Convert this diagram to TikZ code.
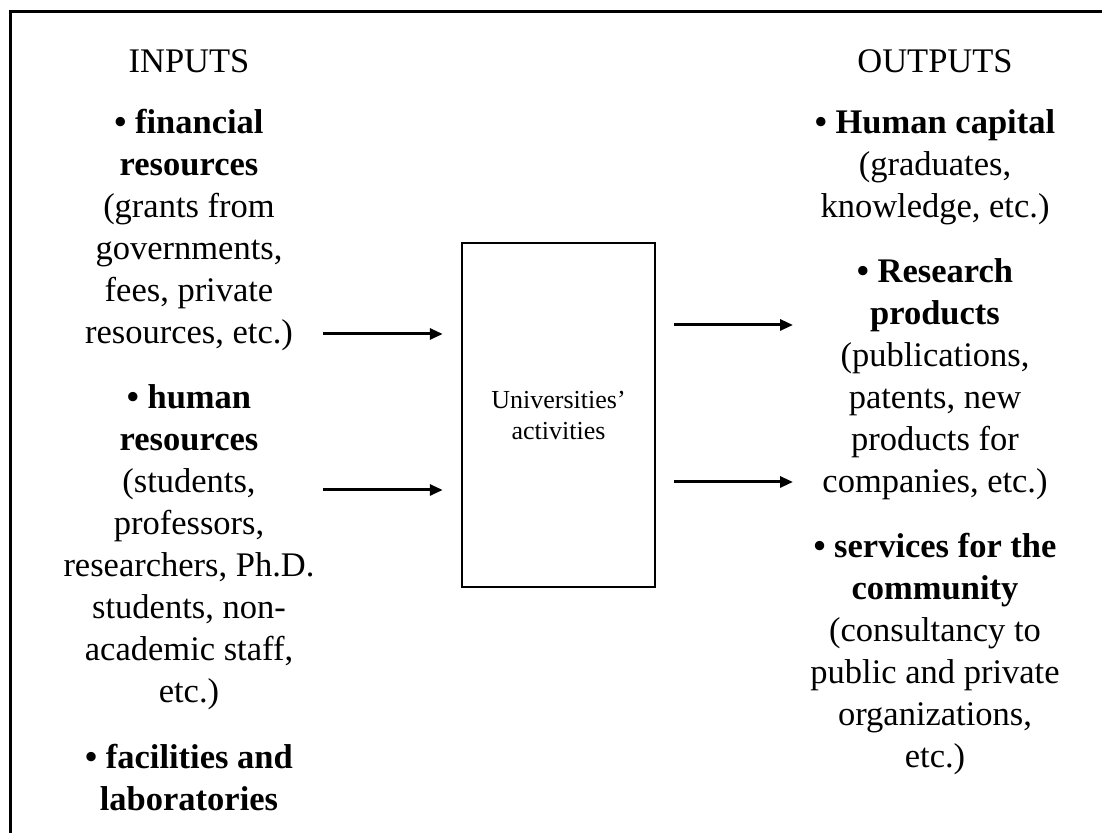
\documentclass[tikz,border=0pt]{standalone}
\usepackage{fontspec}
\setmainfont{Liberation Serif}
\usetikzlibrary{arrows.meta, positioning}
\tikzset{
    heading/.style={
        font=\fontsize{34.5}{42}\selectfont,
        inner sep=0pt
    },
    item/.style={
        align=center,
        font=\fontsize{34.5}{42}\selectfont,
        inner sep=0pt
    },
    process/.style={
        rectangle,
        draw=black,
        line width=2.5pt,
        minimum width=193pt,
        minimum height=344pt,
        align=center,
        font=\fontsize{26}{31}\selectfont
    },
    wire/.style={
        draw=black,
        line width=3pt,
        -{Triangle[length=13pt,width=11pt]}
    },
    frame/.style={
        draw=black,
        line width=3pt
    }
}
\begin{document}
\begin{tikzpicture}[x=1pt, y=1pt]

\useasboundingbox (0,0) rectangle (1102,832);
\clip (0,0) rectangle (1102,832);

% Outer frame
\draw[frame] (10,820) rectangle (1130,-30);

% Inputs (base = last line)
\node[heading, anchor=base] (inputs) at (189,759) {INPUTS};
\node[item, below=271pt of inputs.base, anchor=base] (fin) {\textbf{• financial}\\\textbf{resources}\\(grants from\\governments,\\fees, private\\resources, etc.)};
\node[item, below=359pt of fin.base, anchor=base] (human) {\textbf{• human}\\\textbf{resources}\\(students,\\professors,\\researchers, Ph.D.\\students, non-\\academic staff,\\etc.)};
\node[item, below=107pt of human.base, anchor=base] (facil) {\textbf{• facilities and}\\\textbf{laboratories}};

% Universities
\node[process] (univ) at (558.5,417) {Universities’\\activities};

% Outputs
\node[heading, anchor=base] (outputs) at (935,759) {OUTPUTS};
\node[item, below=145pt of outputs.base, anchor=base] (hcap) {\textbf{• Human capital}\\(graduates,\\knowledge, etc.)};
\node[item, below=275pt of hcap.base, anchor=base] (research) {\textbf{• Research}\\\textbf{products}\\(publications,\\patents, new\\products for\\companies, etc.)};
\node[item, below=275pt of research.base, anchor=base] (services) {\textbf{• services for the}\\\textbf{community}\\(consultancy to\\public and private\\organizations,\\etc.)};

% Flows
\coordinate (in1) at (323,498);
\coordinate (in2) at (323,342);
\coordinate (out1) at (793,507);
\coordinate (out2) at (793,350);
\draw[wire, shorten >=18pt] (in1) -- (in1 -| univ.west);
\draw[wire, shorten >=18pt] (in2) -- (in2 -| univ.west);
\draw[wire, shorten <=18pt] (out1 -| univ.east) -- (out1);
\draw[wire, shorten <=18pt] (out2 -| univ.east) -- (out2);

\end{tikzpicture}
\end{document}
